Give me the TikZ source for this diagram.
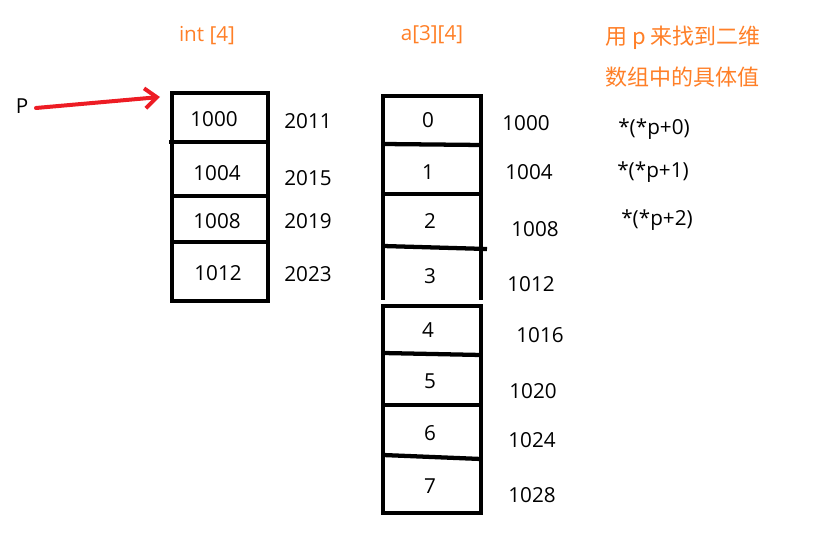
\documentclass[tikz,border=0pt]{standalone}
\usepackage{fontspec}
\setmainfont{Open Sans}
\newfontfamily\cjk{Noto Sans CJK SC}
\usepackage{tikz}
\usepackage{xcolor}
\usetikzlibrary{arrows.meta}

\begin{document}
\begin{tikzpicture}[x=0.75pt,y=0.75pt,yscale=-1,xscale=1]
	\useasboundingbox (0,0) rectangle (821,548); %set diagram size to 821 by 548

	%Shape: Box [id:int4] 
	\draw [line width=3.2pt]  (172,93) rectangle (268,301) ;
	%Straight Lines [id:int4a] 
	\draw [line width=3.2pt]  (169,142) -- (268,142) ;
	%Straight Lines [id:int4b] 
	\draw [line width=3.2pt]  (172,196) -- (268,196) ;
	%Straight Lines [id:int4c] 
	\draw [line width=3.2pt]  (172,242) -- (268,242) ;

	%Shape: Open Box [id:arrA] 
	\draw [line width=3.2pt]  (383,300) -- (383,96) -- (481,96) -- (481,300) ;
	%Straight Lines [id:arrAa] 
	\draw [line width=3.2pt]  (383,144) -- (481,145) ;
	%Straight Lines [id:arrAb] 
	\draw [line width=3.2pt]  (383,194) -- (481,194) ;
	%Straight Lines [id:arrAc] 
	\draw [line width=3.2pt]  (383,246) -- (487,249) ;

	%Shape: Box [id:arrB] 
	\draw [line width=3.2pt]  (383,306) rectangle (481,513) ;
	%Straight Lines [id:arrBa] 
	\draw [line width=3.2pt]  (383,353) -- (481,355) ;
	%Straight Lines [id:arrBb] 
	\draw [line width=3.2pt]  (383,405) -- (481,405) ;
	%Straight Lines [id:arrBc] 
	\draw [line width=3.2pt]  (383,455) -- (481,459) ;

	% Text Node
	\draw (22,106) node (p) [inner sep=0.75pt]  [font=\fontsize{15.5}{19}\selectfont]  {P};
	% Arrow Tip
	\coordinate (tip) at (160,97) ;
	%Straight Lines [id:parrow] 
	\draw [color={rgb, 255:red, 237; green, 28; blue, 36 }  ,draw opacity=1 ][line width=3pt, line cap=round, -{Straight Barb[length=9pt,width=15pt,line width=3pt]}]  (36,108) -- (tip) ;

	% Text Node
	\draw (207,36) node (intlab) [inner sep=0.75pt]  [font=\fontsize{15.5}{19}\selectfont,color={rgb, 255:red, 255; green, 127; blue, 39 }  ,opacity=1 ]  {int [4]};
	% Text Node
	\draw (432,35) node (arrlab) [inner sep=0.75pt]  [font=\fontsize{15.5}{19}\selectfont,color={rgb, 255:red, 255; green, 127; blue, 39 }  ,opacity=1 ]  {a[3][4]};
	% Text Node
	\draw (604,38) node (note1) [anchor=west][inner sep=0.75pt]  [font=\cjk\fontsize{16.5}{19}\selectfont,color={rgb, 255:red, 255; green, 127; blue, 39 }  ,opacity=1 ]  {用 p 来找到二维};
	% Text Node
	\draw (604,77) node (note2) [anchor=west][inner sep=0.75pt]  [font=\cjk\fontsize{16.5}{19}\selectfont,color={rgb, 255:red, 255; green, 127; blue, 39 }  ,opacity=1 ]  {数组中的具体值};

	% Text Node
	\draw (214,119) node (ia) [inner sep=0.75pt]  [font=\fontsize{15.5}{19}\selectfont]  {1000};
	% Text Node
	\draw (217,173) node (ib) [inner sep=0.75pt]  [font=\fontsize{15.5}{19}\selectfont]  {1004};
	% Text Node
	\draw (217,221) node (ic) [inner sep=0.75pt]  [font=\fontsize{15.5}{19}\selectfont]  {1008};
	% Text Node
	\draw (218,273) node (id) [inner sep=0.75pt]  [font=\fontsize{15.5}{19}\selectfont]  {1012};
	% Text Node
	\draw (308,121) node (ja) [inner sep=0.75pt]  [font=\fontsize{15.5}{19}\selectfont]  {2011};
	% Text Node
	\draw (308,178) node (jb) [inner sep=0.75pt]  [font=\fontsize{15.5}{19}\selectfont]  {2015};
	% Text Node
	\draw (308,221) node (jc) [inner sep=0.75pt]  [font=\fontsize{15.5}{19}\selectfont]  {2019};
	% Text Node
	\draw (308,274) node (jd) [inner sep=0.75pt]  [font=\fontsize{15.5}{19}\selectfont]  {2023};

	% Text Node
	\draw (428,120) node (e0) [inner sep=0.75pt]  [font=\fontsize{15.5}{19}\selectfont]  {0};
	% Text Node
	\draw (428,172) node (e1) [inner sep=0.75pt]  [font=\fontsize{15.5}{19}\selectfont]  {1};
	% Text Node
	\draw (430,221) node (e2) [inner sep=0.75pt]  [font=\fontsize{15.5}{19}\selectfont]  {2};
	% Text Node
	\draw (430,276) node (e3) [inner sep=0.75pt]  [font=\fontsize{15.5}{19}\selectfont]  {3};
	% Text Node
	\draw (428,330) node (e4) [inner sep=0.75pt]  [font=\fontsize{15.5}{19}\selectfont]  {4};
	% Text Node
	\draw (430,381) node (e5) [inner sep=0.75pt]  [font=\fontsize{15.5}{19}\selectfont]  {5};
	% Text Node
	\draw (430,433) node (e6) [inner sep=0.75pt]  [font=\fontsize{15.5}{19}\selectfont]  {6};
	% Text Node
	\draw (430,486) node (e7) [inner sep=0.75pt]  [font=\fontsize{15.5}{19}\selectfont]  {7};

	% Text Node
	\draw (526,123) node (a0) [inner sep=0.75pt]  [font=\fontsize{15.5}{19}\selectfont]  {1000};
	% Text Node
	\draw (529,172) node (a1) [inner sep=0.75pt]  [font=\fontsize{15.5}{19}\selectfont]  {1004};
	% Text Node
	\draw (535,229) node (a2) [inner sep=0.75pt]  [font=\fontsize{15.5}{19}\selectfont]  {1008};
	% Text Node
	\draw (531,284) node (a3) [inner sep=0.75pt]  [font=\fontsize{15.5}{19}\selectfont]  {1012};
	% Text Node
	\draw (540,335) node (a4) [inner sep=0.75pt]  [font=\fontsize{15.5}{19}\selectfont]  {1016};
	% Text Node
	\draw (533,391) node (a5) [inner sep=0.75pt]  [font=\fontsize{15.5}{19}\selectfont]  {1020};
	% Text Node
	\draw (532,440) node (a6) [inner sep=0.75pt]  [font=\fontsize{15.5}{19}\selectfont]  {1024};
	% Text Node
	\draw (532,495) node (a7) [inner sep=0.75pt]  [font=\fontsize{15.5}{19}\selectfont]  {1028};

	% Text Node
	\draw (654,129) node (d0) [inner sep=0.75pt]  [font=\fontsize{15.5}{19}\selectfont]  {*(*p+0)};
	% Text Node
	\draw (653,172) node (d1) [inner sep=0.75pt]  [font=\fontsize{15.5}{19}\selectfont]  {*(*p+1)};
	% Text Node
	\draw (657,220) node (d2) [inner sep=0.75pt]  [font=\fontsize{15.5}{19}\selectfont]  {*(*p+2)};

\end{tikzpicture}
\end{document}
